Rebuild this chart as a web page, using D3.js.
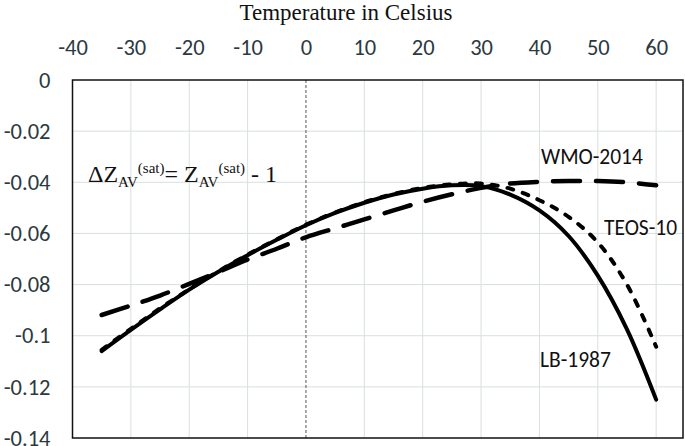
<!DOCTYPE html>
<html>
<head>
<meta charset="utf-8">
<script src="https://cdn.jsdelivr.net/npm/d3@7"></script>
<style>
  html, body { margin: 0; padding: 0; background: #fff; }
  svg { display: block; }
</style>
</head>
<body>
<svg id="chart" width="685" height="446"></svg>
<script>
// ---- data ----
const temps = [-35, -30, -25, -20, -15, -10, -5, 0, 5, 10, 15, 20, 25, 30, 35, 40, 45, 50, 55, 60];
const lb1987 = [-0.1060, -0.0977, -0.0897, -0.0820, -0.0750, -0.0685, -0.0625, -0.0568, -0.0520, -0.0480,
                -0.0448, -0.0425, -0.0412, -0.0415, -0.0448, -0.0510, -0.0610, -0.0765, -0.0975, -0.1250];
const teos10 = [-0.1055, -0.0973, -0.0893, -0.0818, -0.0748, -0.0683, -0.0623, -0.0566, -0.0518, -0.0478,
                -0.0446, -0.0422, -0.0408, -0.0405, -0.0425, -0.0470, -0.0535, -0.0635, -0.0800, -0.1043];
const wmo2014 = [-0.0919, -0.0882, -0.0843, -0.0797, -0.0750, -0.0702, -0.0660, -0.0615, -0.0580, -0.0545,
                 -0.0510, -0.0476, -0.0447, -0.0422, -0.0405, -0.0398, -0.0395, -0.0395, -0.0400, -0.0412];
const xTicks = [-40, -30, -20, -10, 0, 10, 20, 30, 40, 50, 60];
const xTickLabels = ["-40", "-30", "-20", "-10", "0", "10", "20", "30", "40", "50", "60"];
const yTicks = [0, -0.02, -0.04, -0.06, -0.08, -0.10, -0.12, -0.14];
const yTickLabels = ["0", "-0.02", "-0.04", "-0.06", "-0.08", "-0.1", "-0.12", "-0.14"];
const seriesNames = ["WMO-2014", "TEOS-10", "LB-1987"];
const xTitle = "Temperature in Celsius";

(function () {
// ---- layout ----
const svg = d3.select("#chart");
const pL = 72.5, pR = 683, pT = 80, pB = 438;
const x = d3.scaleLinear().domain([-40, 64.6]).range([pL, pR]);
const y = d3.scaleLinear().domain([-0.14, 0]).range([pB, pT]);

const tickFont = "Carlito, Calibri, Lato, 'Open Sans', sans-serif";
const tickColor = "#2b3a3f";

// gridlines
const gridX = xTicks.filter(v => v !== -40 && v !== 0);
svg.append("g").selectAll("line").data(gridX).join("line")
  .attr("x1", d => x(d)).attr("x2", d => x(d))
  .attr("y1", pT).attr("y2", pB)
  .attr("stroke", "#d8e0df").attr("stroke-width", 1);
const gridY = yTicks.filter(v => v !== 0 && v !== -0.14);
svg.append("g").selectAll("line").data(gridY).join("line")
  .attr("x1", pL).attr("x2", pR)
  .attr("y1", d => y(d)).attr("y2", d => y(d))
  .attr("stroke", "#d8e0df").attr("stroke-width", 1);

// zero dashed line
svg.append("line")
  .attr("x1", x(0)).attr("x2", x(0)).attr("y1", pT).attr("y2", pB)
  .attr("stroke", "#555").attr("stroke-width", 1).attr("stroke-dasharray", "3,2");

// plot border
svg.append("rect")
  .attr("x", pL).attr("y", pT).attr("width", pR - pL).attr("height", pB - pT)
  .attr("fill", "none").attr("stroke", "#111").attr("stroke-width", 1.5);

// top axis
const xAxis = d3.axisTop(x).tickValues(xTicks)
  .tickFormat((d, i) => xTickLabels[i]).tickSize(0).tickPadding(25);
const gx = svg.append("g").attr("transform", `translate(0,${pT})`).call(xAxis);
gx.select(".domain").remove();
gx.selectAll("text").attr("font-family", tickFont).attr("font-size", 22.5).attr("fill", tickColor);

// left axis
const yAxis = d3.axisLeft(y).tickValues(yTicks)
  .tickFormat((d, i) => yTickLabels[i]).tickSize(0).tickPadding(22);
const gy = svg.append("g").attr("transform", `translate(${pL},0)`).call(yAxis);
gy.select(".domain").remove();
gy.selectAll("text").attr("font-family", tickFont).attr("font-size", 22.5).attr("fill", tickColor);

// title
svg.append("text")
  .attr("x", 346).attr("y", 20).attr("text-anchor", "middle")
  .attr("font-family", "'Liberation Serif', 'Times New Roman', serif").attr("font-size", 23)
  .attr("fill", "#111").text(xTitle);

// lines
const line = d3.line().x(d => x(d[0])).y(d => y(d[1])).curve(d3.curveCatmullRom.alpha(0.5));
const zip = arr => temps.map((t, i) => [t, arr[i]]);

svg.append("path").datum(zip(lb1987)).attr("d", line)
  .attr("fill", "none").attr("stroke", "#000").attr("stroke-width", 4).attr("stroke-linecap", "round");
svg.append("path").datum(zip(teos10)).attr("d", line)
  .attr("fill", "none").attr("stroke", "#000").attr("stroke-width", 4)
  .attr("stroke-dasharray", "6,10").attr("stroke-linecap", "round");
svg.append("path").datum(zip(wmo2014)).attr("d", line)
  .attr("fill", "none").attr("stroke", "#000").attr("stroke-width", 4.5)
  .attr("stroke-dasharray", "27,16").attr("stroke-linecap", "round");

// series labels
const labelFont = "Carlito, Calibri, Lato, 'Open Sans', sans-serif";
const labelPos = [[541, 164], [604, 235], [540, 367]];
svg.append("g").selectAll("text").data(seriesNames).join("text")
  .attr("x", (d, i) => labelPos[i][0]).attr("y", (d, i) => labelPos[i][1])
  .attr("font-family", labelFont).attr("font-size", 21.5).attr("fill", "#111")
  .text(d => d);

// annotation
const ann = svg.append("text").attr("x", 88).attr("y", 182)
  .attr("font-family", "'Liberation Serif', 'Times New Roman', serif").attr("font-size", 24).attr("fill", "#111");
ann.append("tspan").text("ΔZ");
ann.append("tspan").attr("font-size", 15).attr("dy", 5).text("AV");
ann.append("tspan").attr("font-size", 15).attr("dy", -14).text("(sat)");
ann.append("tspan").attr("dy", 9).text("= Z");
ann.append("tspan").attr("font-size", 15).attr("dy", 5).text("AV");
ann.append("tspan").attr("font-size", 15).attr("dy", -14).text("(sat)");
ann.append("tspan").attr("dy", 9).text(" - 1");
})();
</script>
</body>
</html>
